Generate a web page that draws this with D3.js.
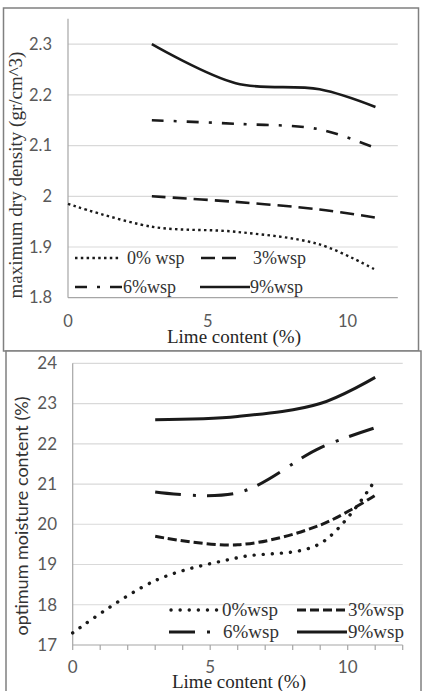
<!DOCTYPE html>
<html><head><meta charset="utf-8">
<script src="https://cdn.jsdelivr.net/npm/d3@7"></script>
<style>body{margin:0;background:#fff}svg{display:block}</style>
</head><body>
<script>
// ---------- data ----------
const limeContent = [0, 3, 6, 9, 11];
const densityLegend = ["0% wsp", "3%wsp", "6%wsp", "9%wsp"];
const moistureLegend = ["0%wsp", "3%wsp", "6%wsp", "9%wsp"];
const density0 = [1.985, 1.94, 1.93, 1.905, 1.855];
const density3 = [null, 2.0, 1.989, 1.974, 1.958];
const density6 = [null, 2.15, 2.143, 2.132, 2.095];
const density9 = [null, 2.3, 2.223, 2.211, 2.176];
const moisture0 = [17.3, 18.6, 19.17, 19.52, 21.1];
const moisture3 = [null, 19.7, 19.49, 19.98, 20.72];
const moisture6 = [null, 20.8, 20.78, 21.9, 22.4];
const moisture9 = [null, 22.6, 22.68, 23.0, 23.65];
const densityTicks = [1.8, 1.9, 2.0, 2.1, 2.2, 2.3];
const densityTickLabels = ["1.8", "1.9", "2", "2.1", "2.2", "2.3"];
const moistureTicks = [17, 18, 19, 20, 21, 22, 23, 24];
const xTickValues = [0, 5, 10];
const xMinorTicks = [0, 1, 2, 3, 4, 5, 6, 7, 8, 9, 10, 11, 12];

// ---------- setup ----------
const W = 427, H = 691;
const svg = d3.select("body").append("svg").attr("width", W).attr("height", H);
const lineCol = "#1a1a1a", gridCol = "#d9d9d9", axisCol = "#a6a6a6", tickCol = "#595959";
const tickFont = "Lato, 'Open Sans', sans-serif";
const serif = "'Liberation Serif', 'DejaVu Serif', serif";

function series(xs, ys) {
  return xs.map((x, i) => ({x, y: ys[i]})).filter(d => d.y !== null);
}

function drawPanel(cfg) {
  const g = svg.append("g");
  const x = cfg.x, y = cfg.y;
  // gridlines
  g.selectAll(".grid").data(cfg.yTicks.slice(1)).enter().append("line")
    .attr("x1", x.range()[0]).attr("x2", x.range()[1])
    .attr("y1", d => y(d)).attr("y2", d => y(d))
    .attr("stroke", gridCol).attr("stroke-width", 1.2);
  // axes lines
  g.append("line").attr("x1", x.range()[0]).attr("x2", x.range()[0])
    .attr("y1", y.range()[1]).attr("y2", y.range()[0])
    .attr("stroke", axisCol).attr("stroke-width", 1.2);
  g.append("line").attr("x1", x.range()[0]).attr("x2", x.range()[1])
    .attr("y1", y.range()[0]).attr("y2", y.range()[0])
    .attr("stroke", axisCol).attr("stroke-width", 1.2);
  if (cfg.minorTicks) {
    g.selectAll(".mt").data(cfg.minorTicks).enter().append("line")
      .attr("x1", d => x(d)).attr("x2", d => x(d))
      .attr("y1", y.range()[0]).attr("y2", y.range()[0] + 5)
      .attr("stroke", axisCol).attr("stroke-width", 1.2);
  }
  // y tick labels
  g.selectAll(".yl").data(cfg.yTicks).enter().append("text")
    .attr("x", cfg.yLabelX).attr("y", d => y(d)).attr("dy", "0.35em")
    .attr("text-anchor", "end").attr("font-family", tickFont)
    .attr("font-size", cfg.tickSize).attr("fill", tickCol)
    .text((d, i) => cfg.yTickLabels[i]);
  // x tick labels
  g.selectAll(".xl").data(xTickValues).enter().append("text")
    .attr("x", d => x(d)).attr("y", cfg.xLabelY).attr("dy", "0.35em")
    .attr("text-anchor", "middle").attr("font-family", tickFont)
    .attr("font-size", cfg.tickSize).attr("fill", tickCol)
    .text(d => d);
  // series
  const lineGen = d3.line().x(d => x(d.x)).y(d => y(d.y)).curve(d3.curveCatmullRom.alpha(0.5));
  cfg.series.forEach((s, i) => {
    g.append("path").attr("d", lineGen(series(limeContent, s)))
      .attr("fill", "none").attr("stroke", lineCol)
      .attr("stroke-width", cfg.styles[i].w)
      .attr("stroke-dasharray", cfg.styles[i].dash)
      .attr("stroke-linecap", cfg.styles[i].cap || "butt");
  });
  // legend
  cfg.legend.forEach((lg, i) => {
    const st = cfg.styles[i];
    g.append("line").attr("x1", lg.x1).attr("x2", lg.x2).attr("y1", lg.y).attr("y2", lg.y)
      .attr("stroke", lineCol).attr("stroke-width", st.w)
      .attr("stroke-dasharray", st.dash).attr("stroke-linecap", st.cap || "butt");
    g.append("text").attr("x", lg.tx).attr("y", lg.y).attr("dy", "0.32em")
      .attr("font-family", serif).attr("font-size", cfg.legendSize).attr("fill", "#333")
      .text(cfg.legendLabels[i]);
  });
  // axis titles
  g.append("text").attr("x", cfg.xTitle[0]).attr("y", cfg.xTitle[1])
    .attr("text-anchor", "middle").attr("font-family", serif)
    .attr("font-size", 19).attr("fill", "#262626").text("Lime content (%)");
  g.append("text").attr("transform", `translate(${cfg.yTitle[0]},${cfg.yTitle[1]}) rotate(-90)`)
    .attr("text-anchor", "middle").attr("font-family", cfg.yTitleFont)
    .attr("font-size", cfg.yTitleSize).attr("fill", "#333").text(cfg.yTitleText);
}

// ---------- top panel ----------
svg.append("rect").attr("x", 3.5).attr("y", 8).attr("width", 415).attr("height", 343)
  .attr("fill", "#fff").attr("stroke", "#808080").attr("stroke-width", 1.5);

drawPanel({
  x: d3.scaleLinear().domain([0, 11.8]).range([68, 68 + 11.8 * 27.95]),
  y: d3.scaleLinear().domain([1.8, 2.35]).range([297.7, 297.7 - 0.55 * 507]),
  yTicks: densityTicks, yTickLabels: densityTickLabels,
  yLabelX: 52, xLabelY: 321, tickSize: 16.5,
  series: [density0, density3, density6, density9],
  styles: [
    {w: 2.4, dash: "2.5,3.3"},
    {w: 2.6, dash: "14,7"},
    {w: 2.6, dash: "12,10,3,10"},
    {w: 2.6, dash: null}
  ],
  legend: [
    {x1: 75, x2: 120, y: 258, tx: 127},
    {x1: 201, x2: 239, y: 258, tx: 253},
    {x1: 75, x2: 123, y: 287, tx: 123},
    {x1: 200, x2: 250, y: 287, tx: 250}
  ],
  legendLabels: densityLegend, legendSize: 18,
  xTitle: [234, 343],
  yTitle: [22, 175], yTitleText: "maximum dry density (gr/cm^3)", yTitleFont: serif, yTitleSize: 19
});

// ---------- bottom panel ----------
svg.append("rect").attr("x", 6).attr("y", 351).attr("width", 415).attr("height", 350)
  .attr("fill", "#fff").attr("stroke", "#808080").attr("stroke-width", 1.5);

drawPanel({
  x: d3.scaleLinear().domain([0, 12]).range([72.7, 72.7 + 12 * 27.5]),
  y: d3.scaleLinear().domain([17, 24]).range([645, 363.3]),
  yTicks: moistureTicks, yTickLabels: moistureTicks.map(String),
  yLabelX: 57, xLabelY: 667, tickSize: 17, minorTicks: xMinorTicks,
  series: [moisture0, moisture3, moisture6, moisture9],
  styles: [
    {w: 3.4, dash: "0.1,9", cap: "round"},
    {w: 3, dash: "9,4"},
    {w: 3, dash: "26,12,3,11"},
    {w: 3, dash: null}
  ],
  legend: [
    {x1: 171, x2: 218, y: 610, tx: 222},
    {x1: 297, x2: 347, y: 610, tx: 348},
    {x1: 169, x2: 214, y: 632, tx: 223},
    {x1: 297, x2: 347, y: 632, tx: 348}
  ],
  legendLabels: moistureLegend, legendSize: 19,
  xTitle: [239, 688],
  yTitle: [28, 516], yTitleText: "optimum moisture content (%)", yTitleFont: tickFont, yTitleSize: 18
});
</script>
</body></html>
